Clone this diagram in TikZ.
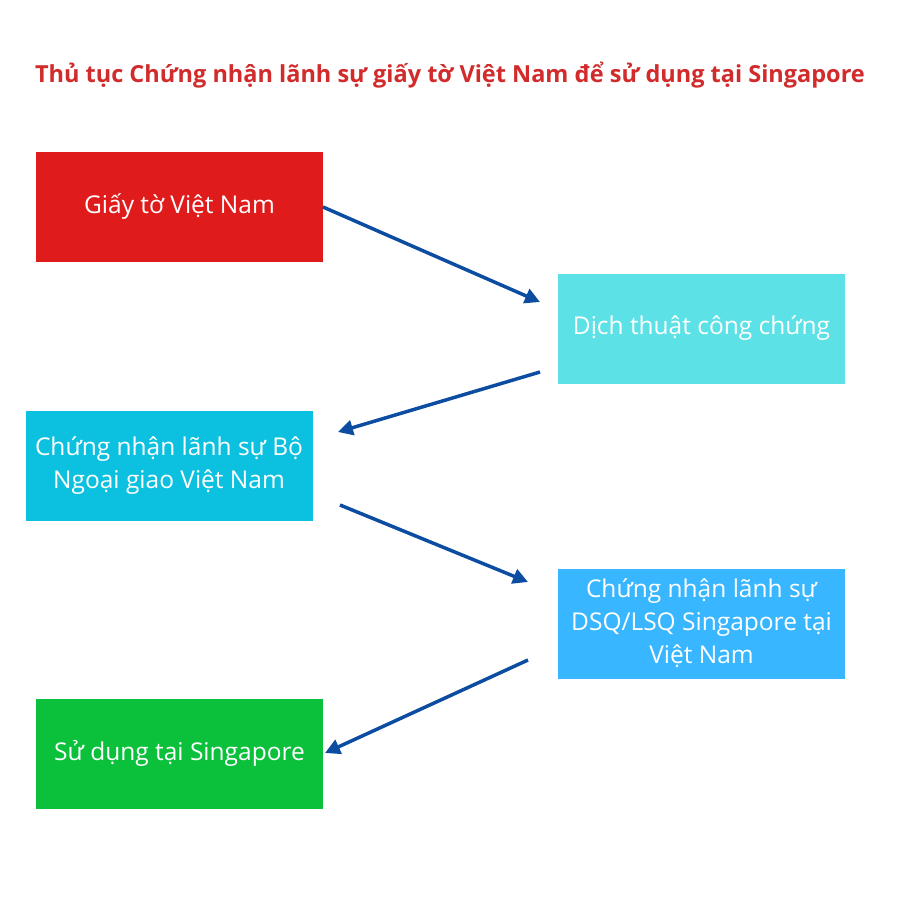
\documentclass[tikz,border=0pt]{standalone}
\usepackage{fontspec}
\setmainfont{Open Sans}
\usetikzlibrary{arrows.meta}
\definecolor{cRed}{HTML}{E01B1B}
\definecolor{cLight}{HTML}{5CE1E6}
\definecolor{cCyan}{HTML}{0CC0DF}
\definecolor{cBlue}{HTML}{38B6FF}
\definecolor{cGreen}{HTML}{0BC03A}
\definecolor{cArrow}{HTML}{0C4DA2}
\definecolor{cTitle}{HTML}{D12B2B}
\tikzset{
  box/.style={draw=none, minimum width=287pt, minimum height=110pt, inner sep=0pt,
    text=white, align=center, font=\fontsize{24.5}{33}\selectfont},
  arr/.style={draw=cArrow, line width=3.5pt, -{Triangle[length=15pt,width=15pt]}},
}
\begin{document}
\begin{tikzpicture}[x=1pt,y=-1pt]
\useasboundingbox (0,0) rectangle (900,900);
\node[font=\bfseries\fontsize{23.5}{28}\selectfont, text=cTitle] (title) at (450,75) {Thủ tục Chứng nhận lãnh sự giấy tờ Việt Nam để sử dụng tại Singapore};
\node[box, fill=cRed] (b1) at (179.5,206.5) {Giấy tờ Việt Nam};
\node[box, fill=cLight] (b2) at (701.5,328.5) {Dịch thuật công chứng};
\node[box, fill=cCyan] (b3) at (169,465.5) {Chứng nhận lãnh sự Bộ\\Ngoại giao Việt Nam};
\node[box, fill=cBlue] (b4) at (701.5,623.5) {Chứng nhận lãnh sự\\DSQ/LSQ Singapore tại\\Việt Nam};
\node[box, fill=cGreen] (b5) at (179.5,753.5) {Sử dụng tại Singapore};
\coordinate (a1s) at (323,207); \coordinate (a1e) at (540,302);
\coordinate (a2s) at (540,372); \coordinate (a2e) at (338,432);
\coordinate (a3s) at (340,505); \coordinate (a3e) at (528,582);
\coordinate (a4s) at (528,660); \coordinate (a4e) at (325,753);
\draw[arr] (a1s) -- (a1e);
\draw[arr] (a2s) -- (a2e);
\draw[arr] (a3s) -- (a3e);
\draw[arr] (a4s) -- (a4e);
\end{tikzpicture}
\end{document}
